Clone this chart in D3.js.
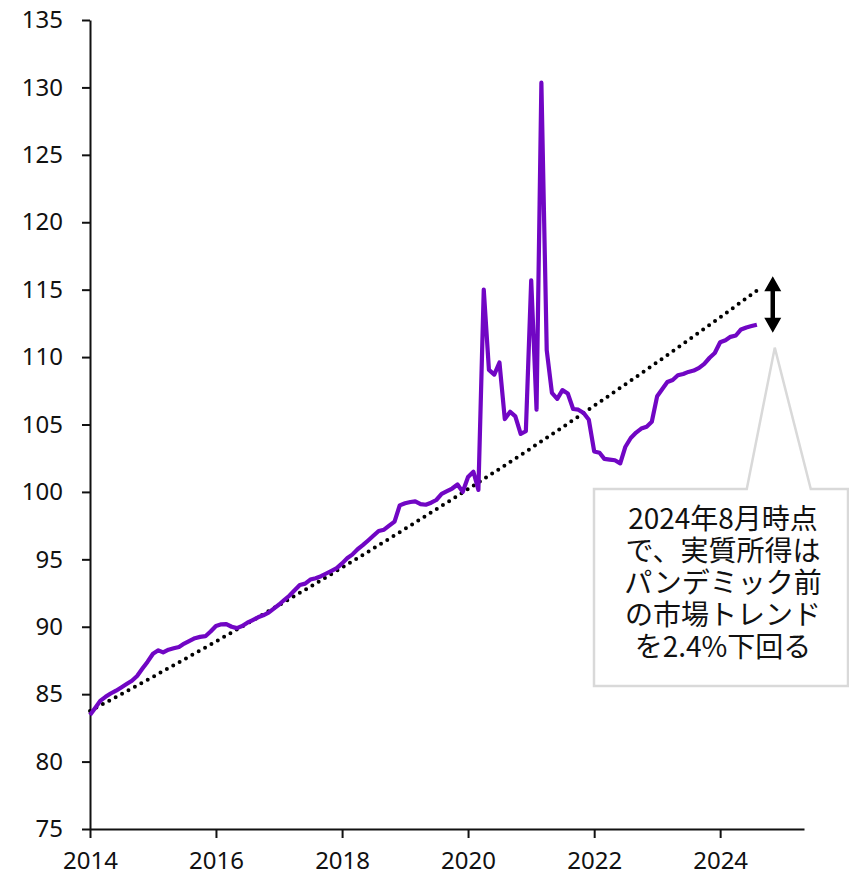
<!DOCTYPE html>
<html>
<head>
<meta charset="utf-8">
<script src="https://cdn.jsdelivr.net/npm/d3@7"></script>
<style>
  html, body { margin: 0; padding: 0; background: #fff; }
  svg { display: block; }
  .axis text { font-family: "Noto Sans", "Liberation Sans", sans-serif; font-size: 24px; fill: #111; }
  .axis path, .axis line { stroke: #111; stroke-width: 2; }
  .note { font-family: "Noto Sans CJK JP", "Noto Sans", sans-serif; font-size: 28px; fill: #111; }
</style>
</head>
<body>
<svg id="chart" width="849" height="875"></svg>
<script>
// Real income index, monthly from January 2014 to August 2024
const startYear = 2014;
const incomeValues = [
  // 2014
  83.45, 84.0, 84.5, 84.8, 85.05, 85.26, 85.5, 85.75, 86.0, 86.35, 86.9, 87.41,
  // 2015
  88.0, 88.25, 88.1, 88.3, 88.4, 88.5, 88.75, 88.95, 89.15, 89.25, 89.3, 89.65,
  // 2016
  90.06, 90.18, 90.2, 90.0, 89.9, 90.05, 90.3, 90.5, 90.7, 90.85, 91.05, 91.35,
  // 2017
  91.65, 92.0, 92.3, 92.7, 93.1, 93.2, 93.5, 93.6, 93.75, 93.95, 94.15, 94.35,
  // 2018
  94.7, 95.1, 95.35, 95.75, 96.05, 96.4, 96.75, 97.1, 97.2, 97.5, 97.8, 99.0,
  // 2019
  99.16, 99.25, 99.3, 99.1, 99.05, 99.2, 99.4, 99.85, 100.05, 100.25, 100.55, 100.0,
  // 2020
  101.1, 101.5, 100.15, 115.0, 109.05, 108.7, 109.6, 105.4, 105.95, 105.6, 104.3, 104.5,
  // 2021
  115.7, 106.1, 130.35, 110.5, 107.35, 106.9, 107.55, 107.3, 106.15, 106.1, 105.85, 105.35,
  // 2022
  103.0, 102.9, 102.45, 102.4, 102.35, 102.12, 103.35, 104.0, 104.4, 104.7, 104.84, 105.2,
  // 2023
  107.1, 107.65, 108.15, 108.3, 108.65, 108.75, 108.9, 109.0, 109.2, 109.5, 109.95, 110.3,
  // 2024
  111.1, 111.25, 111.5, 111.6, 112.05, 112.2, 112.3, 112.4
];

// Pre-pandemic market trend
const trendDates = ["2014-01", "2015-01", "2016-01", "2017-01", "2018-01", "2019-01",
                    "2020-01", "2021-01", "2022-01", "2023-01", "2024-01", "2024-08"];
const trendValues = [83.75, 86.29, 88.91, 91.61, 94.39, 97.26,
                     100.21, 103.25, 106.39, 109.62, 112.95, 114.94];

const yTicks = [75, 80, 85, 90, 95, 100, 105, 110, 115, 120, 125, 130, 135];
const xTickYears = [2014, 2016, 2018, 2020, 2022, 2024];

const noteLines = ["2024年8月時点", "で、実質所得は", "パンデミック前", "の市場トレンド", "を2.4%下回る"];
// Gap marker: from above the trend end down to the latest reading
const gapArrow = { date: "2024-11", from: 116.0, to: 111.8 };
const notePointer = { date: "2024-11", value: 110.7 };

const parseMonth = d3.timeParse("%Y-%m");
const svg = d3.select("#chart");

const x = d3.scaleTime()
  .domain([new Date(2014, 0, 1), new Date(2025, 4, 1)])
  .range([90, 804]);
const y = d3.scaleLinear().domain([75, 135]).range([829, 20]);

// Axes
svg.append("g").attr("class", "axis")
  .attr("transform", "translate(90,0)")
  .call(d3.axisLeft(y).tickValues(yTicks).tickSize(8).tickSizeOuter(0).tickPadding(19)
    .tickFormat(d3.format("d")));

svg.append("g").attr("class", "axis")
  .attr("transform", "translate(0,829)")
  .call(d3.axisBottom(x).tickValues(xTickYears.map(yr => new Date(yr, 0, 1)))
    .tickSize(9).tickSizeOuter(0).tickPadding(14).tickFormat(d3.timeFormat("%Y")));

// Trend line (dotted)
const trend = trendDates.map((d, i) => ({ date: parseMonth(d), value: trendValues[i] }));
svg.append("path")
  .datum(trend)
  .attr("fill", "none")
  .attr("stroke", "#000")
  .attr("stroke-width", 4)
  .attr("stroke-linecap", "round")
  .attr("stroke-dasharray", "0 7.3")
  .attr("d", d3.line().x(d => x(d.date)).y(d => y(d.value)).curve(d3.curveMonotoneX));

// Income line
const income = incomeValues.map((v, i) => ({ date: new Date(startYear, i, 1), value: v }));
svg.append("path")
  .datum(income)
  .attr("fill", "none")
  .attr("stroke", "#7106c4")
  .attr("stroke-width", 4.2)
  .attr("stroke-linejoin", "round")
  .attr("d", d3.line().x(d => x(d.date)).y(d => y(d.value)));

// Double-headed gap arrow
const ax = x(parseMonth(gapArrow.date));
const yTop = y(gapArrow.from), yBot = y(gapArrow.to);
const headH = 15, headW = 8.5;
svg.append("line")
  .attr("x1", ax).attr("x2", ax)
  .attr("y1", yTop + headH - 1).attr("y2", yBot - headH + 1)
  .attr("stroke", "#000").attr("stroke-width", 4.5);
svg.append("path")
  .attr("fill", "#000")
  .attr("d", `M${ax},${yTop} L${ax + headW},${yTop + headH} L${ax - headW},${yTop + headH} Z
              M${ax},${yBot} L${ax + headW},${yBot - headH} L${ax - headW},${yBot - headH} Z`);

// Callout box with pointer
const box = { left: 594, right: 848, top: 489, bottom: 686 };
const px = x(parseMonth(notePointer.date)) + 2;
const py = y(notePointer.value);
svg.append("path")
  .attr("fill", "#fff")
  .attr("stroke", "#d9d9d9")
  .attr("stroke-width", 2.5)
  .attr("stroke-linejoin", "miter")
  .attr("d", `M${box.left},${box.top} L${px - 28},${box.top} L${px},${py} L${px + 36},${box.top}
              L${box.right},${box.top} L${box.right},${box.bottom} L${box.left},${box.bottom} Z`);

const cx = (box.left + box.right) / 2 + 2;
svg.append("g").selectAll("text")
  .data(noteLines)
  .join("text")
  .attr("class", "note")
  .attr("x", cx)
  .attr("y", (d, i) => 517 + i * 32)
  .attr("text-anchor", "middle")
  .attr("dominant-baseline", "central")
  .text(d => d);
</script>
</body>
</html>
